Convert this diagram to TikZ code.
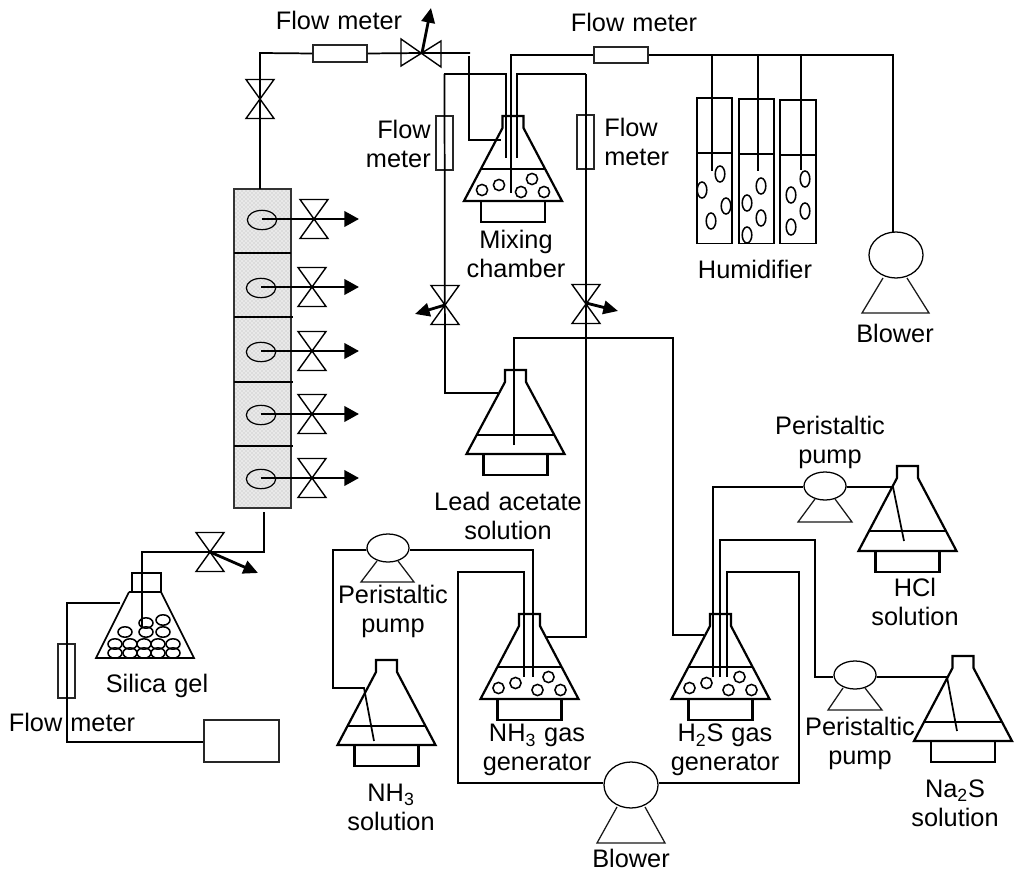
\documentclass[tikz,border=0pt]{standalone}
\usepackage{fontspec}
\setmainfont[WordSpace=1.15]{Liberation Sans}
\usetikzlibrary{arrows.meta,shapes.geometric,patterns}
\tikzset{
  x=0.75pt,y=-0.75pt,
  tube/.style={draw=black,line width=1.3pt,line join=miter},
  heavy/.style={draw=black,line width=1.65pt,line join=miter},
  thin line/.style={draw=black!90,line width=0.95pt},
  meter/.style={draw=black!85,line width=0.85pt,rectangle,inner sep=0pt},
  pumphead/.style={draw=black,line width=0.95pt,ellipse,inner sep=0pt,minimum width=31.5pt,minimum height=21pt},
  blowerhead/.style={draw=black,line width=0.95pt,ellipse,inner sep=0pt,minimum width=40.5pt,minimum height=34.5pt},
  lbl/.style={inner sep=0pt,align=center,font=\fontsize{19}{21.75}\selectfont},
  bub/.style={draw=black,line width=1.15pt},
  outarrow/.style={line width=2.1pt,-{Triangle[length=11pt,width=11.5pt]}},
  gas/.style={line width=2.1pt,-{Triangle[length=11pt,width=10pt]}},
}
% flask: centre x, top y, level y, base y
\newcommand\flask[4]{%
  \pgfmathsetmacro\nb{#2+12}%
  \pgfmathsetmacro\lw{10.5+38.5*(#3-\nb)/(#4-\nb)}%
  \draw[heavy] (#1-49,#4)--(#1-10.5,\nb)--(#1-10.5,#2)--(#1+10.5,#2)--(#1+10.5,\nb)--(#1+49,#4)--cycle;
  \draw[tube] (#1-\lw,#3)--(#1+\lw,#3);
  \draw[heavy] (#1-32,#4)--(#1-32,#4+21)--(#1+32,#4+21)--(#1+32,#4);
}
\newcommand\bubbles[2]{%
  \foreach \dx/\dy in {-31/-11,-14/-16,8/-9,19/-22,31/-9}
    \draw[bub] (#1+\dx,#2+\dy) circle [radius=5.6];
}
\newcommand\valve[2]{%
  \draw[tube,line width=1.05pt] (#1-14,#2-19.5)--(#1+14,#2-19.5)--(#1-14,#2+19.5)--(#1+14,#2+19.5)--cycle;
}
\begin{document}
\begin{tikzpicture}
\useasboundingbox (0,0) rectangle (1016,873);

% ---------- adsorption column
\fill[gray!17] (234,189) rectangle (291,508);
\fill[pattern=crosshatch dots,pattern color=gray!60] (234,189) rectangle (291,508);
\node[draw=black!80,line width=0.9pt,inner sep=0pt,minimum width=42.75pt,minimum height=239.25pt] (column) at (262.5,348.5) {};
\foreach \yy/\xe in {253/291,317/293,382/293,446/293}
  \draw[tube,line width=0.9pt] (234,\yy)--(\xe,\yy);
\foreach \n/\ex/\vx/\yy in {a/262/314/219,b/261/312/287,c/261/312/351,d/261/312/414,e/261/312/478}{
  \node[draw=black,line width=0.9pt,ellipse,inner sep=0pt,minimum width=22pt,minimum height=14.5pt] (port\n) at (\ex,\yy+1) {};
  \valve{\vx}{\yy}
  \coordinate (out\n) at (359,\yy);
  \draw[outarrow] (port\n.center |- 0,\yy)--(out\n);
}

% ---------- top line to column
\node[meter,minimum width=40.5pt,minimum height=12.75pt] (fmA) at (340,53.5) {};
\valve{260}{99}
\coordinate (vent1) at (431,8);
\coordinate (topv) at (422,53);
\coordinate (inA) at (501,140);
\draw[tube] (260,189)--(260,53)--(fmA.west);
\draw[tube] (fmA.east)--(topv)--(470,53);
\draw[tube,line width=1.05pt] (401,39)--(441,67)--(441,41)--(401,66)--cycle;
\draw[gas] (topv)--(vent1);
\draw[tube] (469,56)--(469,140)--(inA);

% ---------- mixing chamber
\flask{513}{116}{169}{201}
\bubbles{513}{201}
\draw[tube] (444,74)--(506,74)--(506,158);
\draw[tube] (517,158)--(517,74)--(586,74);
\node[meter,minimum width=12.75pt,minimum height=40.5pt] (fmB) at (444.5,143) {};
\node[meter,minimum width=12.75pt,minimum height=40.5pt] (fmC) at (585.5,142) {};
\node[meter,minimum width=40.5pt,minimum height=12pt] (fmD) at (621,55) {};
\draw[tube] (511,193)--(511,55)--(fmD.west);

% ---------- blower and humidifiers
\node[blowerhead] (blowA) at (896,255) {};
\draw[thin line] (883,278)--(862,313)--(929,313)--(907,278);
\draw[tube] (fmD.east)--(893,55)--(893,233);
\foreach \xa/\xb/\ya/\yl in {697/732/98/153,739/774/99/154,780/816/100/155}{
  \draw[tube] (\xa,\ya) rectangle (\xb,243.5);
  \draw[tube] (\xa-1,\yl)--(\xb,\yl);
}
\draw[tube] (712,55)--(712,171);
\draw[tube] (758,55)--(758,171);
\draw[tube] (801,55)--(801,170);
\foreach \bx/\by in {720/174,702/190,726/206,711/221,761/186,747/203,761/218,747/235,805/179,791/195,805/211,791/227}
  \draw[bub] (\bx,\by) ellipse [x radius=4.8,y radius=8];

% ---------- valves under the meters
\valve{445}{305}
\valve{586}{304}
\coordinate (vent2) at (415,314);
\coordinate (vent3) at (618,311);
\coordinate (v2) at (445,305);
\coordinate (v3) at (586,303);
\draw[gas] (v2)--(vent2);
\draw[gas] (v3)--(vent3);

% ---------- lead acetate
\flask{515.5}{370}{435}{454}
\draw[tube] (444.5,74)--(445,393)--(498,393);
\draw[tube] (514,445)--(514,338)--(673,338)--(673,635)--(704,635);
\draw[tube] (586,74)--(586,637)--(547,637);

% ---------- NH3 gas generator
\flask{529.5}{614}{667}{699}
\bubbles{529.5}{699}
\node[pumphead] (pumpA) at (388,548) {};
\draw[thin line] (377,561)--(361,582)--(414,582)--(398,561);
\draw[tube] (pumpA.east |- 0,550)--(533,550)--(533,677);
\draw[tube] (pumpA.west |- 0,550)--(333,550)--(333,688)--(364,688)--(374,741);
\flask{386.5}{660}{726}{745}

% ---------- blower 2
\node[blowerhead] (blowB) at (631,785) {};
\draw[thin line] (617,807)--(597,843)--(665,843)--(645,807);
\draw[tube] (blowB.west |- 0,783)--(458,783)--(458,572)--(524,572)--(524,677);
\draw[tube] (blowB.east |- 0,783)--(799,783)--(799,572)--(727,572)--(727,677);

% ---------- H2S gas generator
\flask{720.5}{614}{667}{699}
\bubbles{720.5}{699}
\node[pumphead] (pumpB) at (825,486) {};
\draw[thin line] (815,499)--(798,522)--(852,522)--(835,499);
\draw[tube] (713,677)--(713,487)--(pumpB.west |- 0,487);
\draw[tube] (pumpB.east |- 0,487)--(893,487)--(904,541);
\flask{907.5}{466}{531}{551}
\node[pumphead] (pumpC) at (855,675) {};
\draw[thin line] (843,688)--(828,710)--(882,710)--(865,688);
\draw[tube] (720,677)--(720,540)--(815,540)--(815,677)--(pumpC.west |- 0,677);
\draw[tube] (pumpC.east |- 0,677)--(947,677)--(957,731);
\flask{963}{656}{722}{741}

% ---------- silica gel
\coordinate (silicaTop) at (142,628);
\draw[heavy] (129,592)--(161,592);
\draw[tube,line width=0.9pt] (132,592)--(132,573)--(161,573)--(161,592);
\draw[tube] (129,592)--(96,658)--(194,658)--(161,592);
\foreach \gx/\gy in {115/653,130/653,144/653,158/653,173/653,115/644,130/644,144/644,158/644,173/644,125/632,146/632,163/632,146/623,163/620}
  \draw[bub] (\gx,\gy) ellipse [x radius=7,y radius=5.2];
\valve{210}{552}
\coordinate (v4) at (210,552);
\coordinate (vent4) at (258,573);
\draw[tube] (264,512)--(264,552)--(142,552)--(silicaTop);
\draw[gas] (v4)--(vent4);
\node[draw=black!85,line width=1pt,inner sep=0pt,minimum width=56.25pt,minimum height=31.5pt] (source) at (241.5,741) {};
\node[meter,minimum width=12.75pt,minimum height=40.5pt] (fmE) at (66.5,671) {};
\draw[tube] (120,603)--(67,603)--(67,742)--(source.west |- 0,742);

% ---------- labels
\node[lbl] (t1) at (339,20) {Flow meter};
\node[lbl] (t2) at (634,22) {Flow meter};
\node[lbl,align=right,anchor=east] (t3) at (431,144) {Flow\\meter};
\node[lbl,align=left,anchor=west] (t4) at (604,142) {Flow\\meter};
\node[lbl] (t5) at (516,254) {Mixing\\chamber};
\node[lbl] (t6) at (755,269) {Humidifier};
\node[lbl] (t7) at (895,333) {Blower};
\node[lbl] (t8) at (508,516) {Lead acetate\\solution};
\node[lbl] (t9) at (830,442) {Peristaltic\\pump};
\node[lbl] (t10) at (915,602) {HCl\\solution};
\node[lbl] (t11) at (393,611) {Peristaltic\\pump};
\node[lbl] (t12) at (391,807) {NH\textsubscript{3}\\solution};
\node[lbl] (t13) at (537,750) {NH\textsubscript{3} gas\\generator};
\node[lbl] (t14) at (725,750) {H\textsubscript{2}S gas\\generator};
\node[lbl] (t15) at (860,743) {Peristaltic\\pump};
\node[lbl] (t16) at (955,803) {Na\textsubscript{2}S\\solution};
\node[lbl] (t17) at (631,858) {Blower};
\node[lbl] (t18) at (157,686) {Silica gel};
\node[lbl] (t19) at (72,722) {Flow meter};
\end{tikzpicture}
\end{document}
